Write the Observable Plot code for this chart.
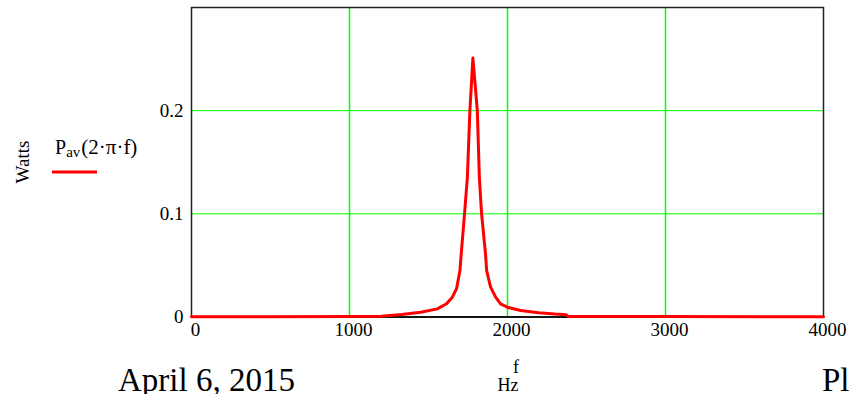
<!DOCTYPE html>
<html>
<head>
<meta charset="utf-8">
<script src="https://cdn.jsdelivr.net/npm/d3@7"></script>
<script src="https://cdn.jsdelivr.net/npm/@observablehq/plot@0.6"></script>
<style>
  html, body { margin: 0; padding: 0; background: #fff; overflow: hidden; }
  #chart { width: 851px; height: 394px; }
</style>
</head>
<body>
<div id="chart"></div>
<script>
// Frequency in Hz and average power in Watts
const freq  = [0, 500, 1000, 1200, 1330, 1450, 1556, 1614, 1651, 1678, 1699, 1707, 1728, 1746, 1762, 1781, 1809, 1822, 1836, 1861, 1868, 1893, 1925, 1956, 1999, 2083, 2197, 2300, 2370, 2385, 3000, 4000];
const power = [0.0003, 0.0003, 0.0004, 0.0008, 0.0025, 0.0046, 0.0079, 0.0128, 0.0192, 0.0276, 0.045, 0.061, 0.100, 0.135, 0.200, 0.251, 0.200, 0.135, 0.100, 0.061, 0.045, 0.029, 0.0192, 0.0128, 0.0095, 0.0063, 0.0041, 0.0028, 0.0022, 0.0006, 0.0004, 0.0003];
const xTicks = [0, 1000, 2000, 3000, 4000];
const yTicks = [0, 0.1, 0.2];
const gridX = [1000, 2000, 3000];
const gridY = [0.1, 0.2];
const seriesLabel = "P";
const seriesSub = "av";
const seriesArg = "(2\u00B7\u03C0\u00B7f)";
const yLabel = "Watts";
const xLabel = "f";
const xUnit = "Hz";
const dateText = "April 6, 2015";
const pageText = "Pl";

const data = freq.map((f, i) => ({f, p: power[i]}));

const W = 851, H = 394;
const plot = Plot.plot({
  width: W,
  height: H,
  marginLeft: 191,
  marginRight: 28,
  marginTop: 7,
  marginBottom: 77.5,
  style: {fontFamily: "'Liberation Serif', 'Times New Roman', serif", fontSize: "19px", background: "#fff", overflow: "visible"},
  x: {domain: [0, 4000], axis: null},
  y: {domain: [0, 0.3], axis: null},
  marks: [
    Plot.gridX(gridX, {stroke: "#00ff00", strokeOpacity: 1, strokeWidth: 1.5}),
    Plot.gridY(gridY, {stroke: "#00ff00", strokeOpacity: 1, strokeWidth: 1}),
    Plot.text(xTicks, {x: d => d, frameAnchor: "bottom", dy: 19, dx: 4, text: d => String(d), fill: "#000", fontSize: 19}),
    Plot.text(yTicks, {y: d => d, frameAnchor: "left", dx: -8, textAnchor: "end", text: d => d === 0 ? "0" : d.toFixed(1), fill: "#000", fontSize: 19}),
    Plot.frame({stroke: "#1c261c", strokeWidth: 1.5}),
    Plot.ruleY([0], {stroke: "#000", strokeWidth: 1.5}),
    Plot.line(data, {x: "f", y: "p", stroke: "#ff0000", strokeWidth: 3, curve: "linear"})
  ]
});
document.getElementById("chart").appendChild(plot);

const svg = d3.select(plot);
const serif = "'Liberation Serif', 'Times New Roman', serif";

// y label
svg.append("text")
  .attr("transform", "translate(29,162) rotate(-90)")
  .attr("text-anchor", "middle")
  .attr("font-family", serif).attr("font-size", 19)
  .text(yLabel);

// legend
const leg = svg.append("text")
  .attr("x", 55).attr("y", 154)
  .attr("text-anchor", "start")
  .attr("font-family", serif).attr("font-size", 20);
leg.append("tspan").text(seriesLabel);
leg.append("tspan").attr("font-size", 15).attr("dy", 3).text(seriesSub);
leg.append("tspan").attr("dy", -3).attr("dx", 1).attr("font-size", 21).text(seriesArg);
svg.append("line")
  .attr("x1", 52).attr("x2", 97).attr("y1", 172).attr("y2", 172)
  .attr("stroke", "#ff0000").attr("stroke-width", 3);

// x label
svg.append("text")
  .attr("x", 516).attr("y", 373).attr("text-anchor", "middle")
  .attr("font-family", serif).attr("font-size", 18).text(xLabel);
svg.append("text")
  .attr("x", 508).attr("y", 391).attr("text-anchor", "middle")
  .attr("font-family", serif).attr("font-size", 18).text(xUnit);

// footer texts
svg.append("text")
  .attr("x", 118).attr("y", 391)
  .attr("text-anchor", "start")
  .attr("font-family", serif).attr("font-size", 33).text(dateText);
svg.append("text")
  .attr("x", 822).attr("y", 391)
  .attr("text-anchor", "start")
  .attr("font-family", serif).attr("font-size", 33).text(pageText);
</script>
</body>
</html>
